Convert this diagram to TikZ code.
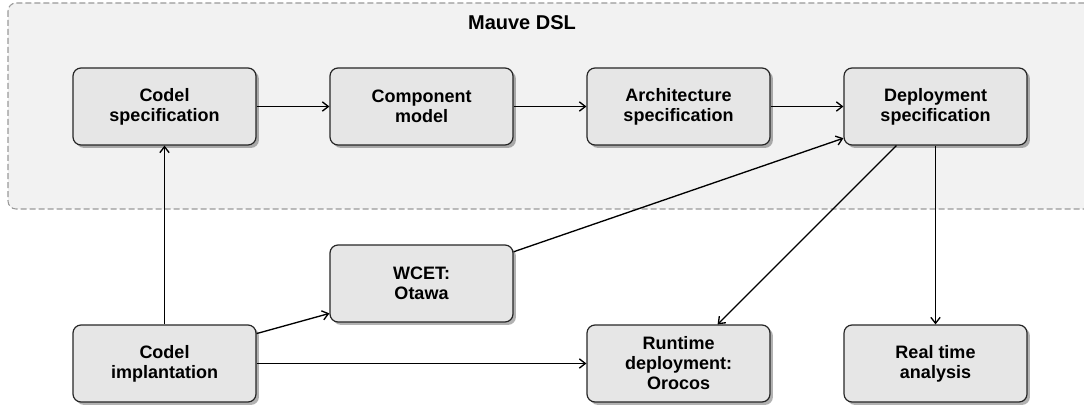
\documentclass[tikz,border=0pt]{standalone}
\usepackage{fontspec}
\setmainfont{Liberation Sans}
\usepackage{xcolor}
\usetikzlibrary{arrows.meta,shadows,positioning}
\definecolor{dslfill}{HTML}{F2F2F2}
\definecolor{dsledge}{HTML}{999999}
\definecolor{boxfill}{HTML}{E6E6E6}
\begin{document}
\begin{tikzpicture}[x=0.75pt,y=-0.75pt,>={Straight Barb[length=4.5pt,width=7pt]}]
    \tikzset{
        blk/.style={draw=black!85, line width=0.9pt, fill=boxfill, rounded corners=6pt, align=center,
            minimum width=137.25pt, minimum height=57.75pt, inner sep=2pt,
            font=\fontsize{13.5}{15}\selectfont\bfseries,
            drop shadow={shadow xshift=2.2pt, shadow yshift=-2.2pt, fill=black, opacity=0.3}},
        a/.style={->, line width=1pt},
    }
        \clip (0,0) rectangle (1084,406);

        \draw[dsledge, line width=0.8pt, fill=dslfill, rounded corners=6pt, dash pattern=on 4.5pt off 2.25pt] (8,3) rectangle (1110,209);
        \node[font=\fontsize{15}{17}\selectfont\bfseries] (title) at (522,22.5) {Mauve DSL};

        \node[blk] (cspec)  at (164.5,106.5) {Codel\\specification};
        \node[blk] (comp)   at (421.5,106.5) {Component\\model};
        \node[blk] (arch)   at (678.5,106.5) {Architecture\\specification};
        \node[blk] (deploy) at (935.5,106.5) {Deployment\\specification};
        \node[blk] (wcet)   at (421.5,283.5) {WCET:\\Otawa};
        \node[blk] (cimpl)  at (164.5,363.5) {Codel\\implantation};
        \node[blk] (orocos) at (678.5,363.5) {Runtime\\deployment:\\Orocos};
        \node[blk] (rta)    at (935.5,363.5) {Real time\\analysis};

        \draw [a] (cspec) -- (comp);
        \draw [a] (comp) -- (arch);
        \draw [a] (arch) -- (deploy);
        \draw [a] (cimpl) -- (cspec);
        \draw [a] (cimpl.18) -- (wcet.198);
        \draw [a] (cimpl) -- (orocos);
        \draw [a] (wcet.19) -- (deploy.199);
        \draw [a] (deploy.225) -- (orocos.45);
        \draw [a] (deploy) -- (rta);
    \end{tikzpicture}
\end{document}
